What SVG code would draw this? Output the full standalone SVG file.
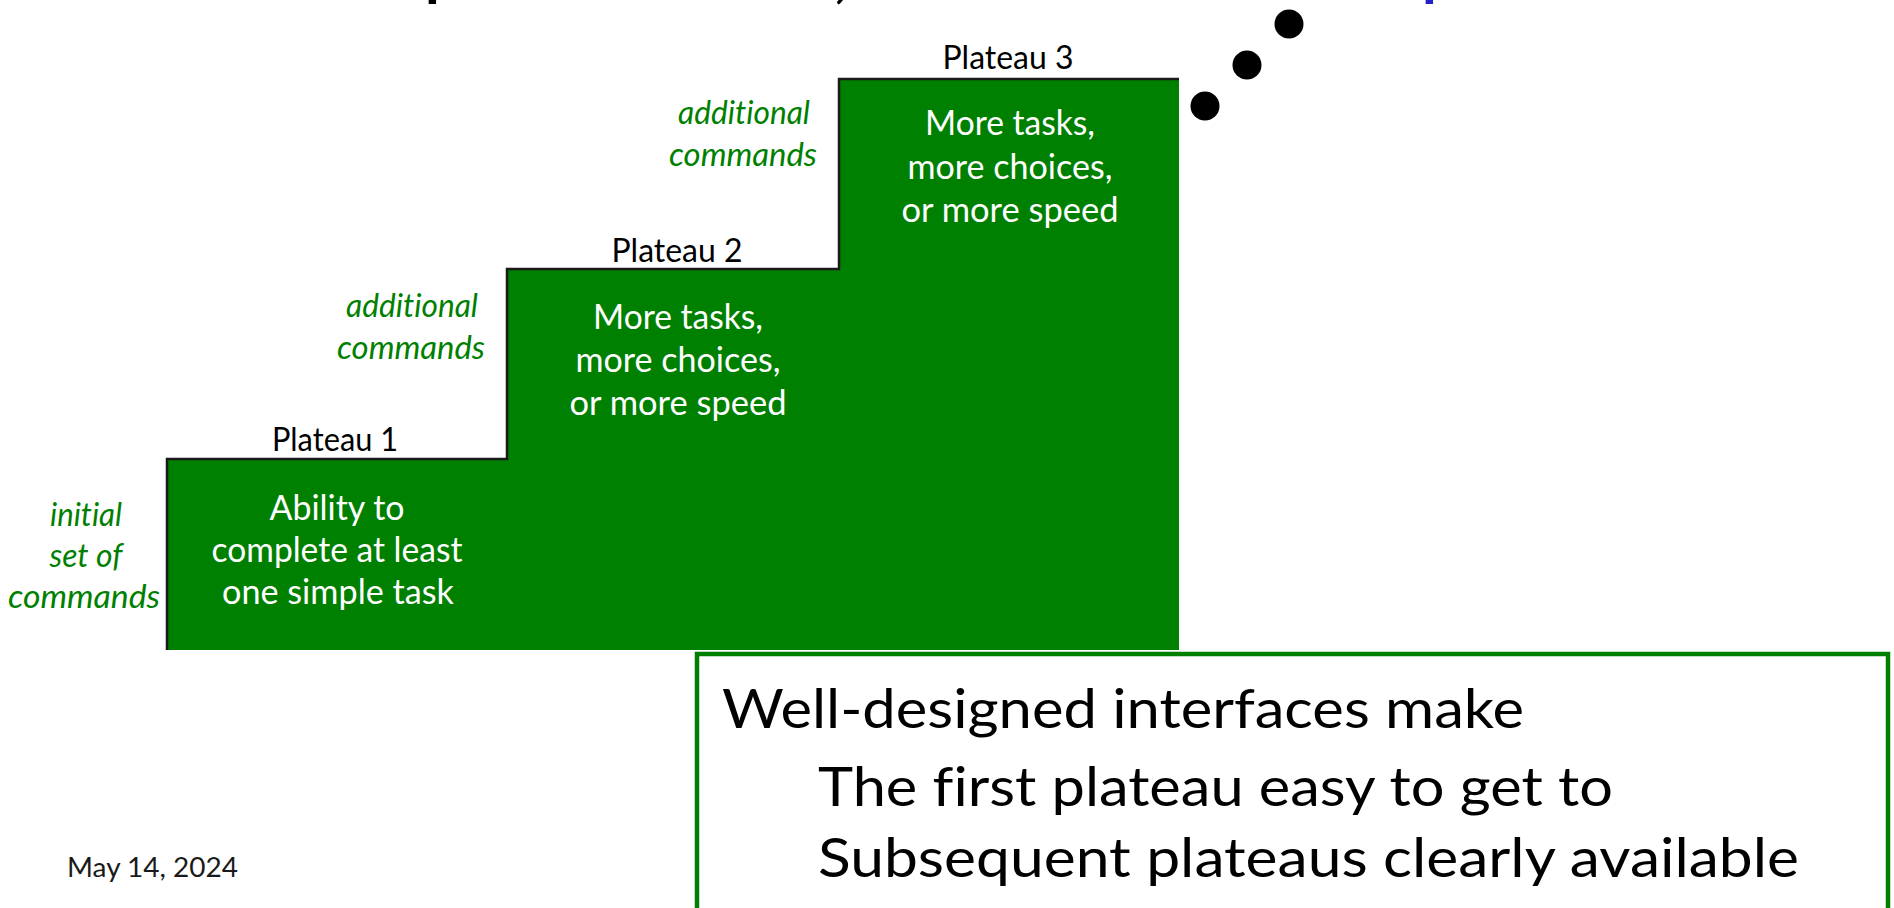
<svg xmlns="http://www.w3.org/2000/svg" width="1894" height="908" viewBox="0 0 1894 908">
  <style>
    text { font-variant-ligatures: none; }
    .step { fill: #008000; }
    .edge { fill: none; stroke: #1a1a1a; stroke-width: 2.5; }
    .plabel { font-family: Lato, "Open Sans", sans-serif; font-size: 32px; fill: #000; text-anchor: middle; }
    .body { font-family: Lato, "Open Sans", sans-serif; font-size: 34px; fill: #fff; text-anchor: middle; }
    .cmd { font-family: Lato, "Open Sans", sans-serif; font-size: 32px; font-style: italic; fill: #008000; text-anchor: middle; }
    .note { font-family: Lato, "Open Sans", sans-serif; font-size: 55px; fill: #000; }
    .date { font-family: Lato, "Open Sans", sans-serif; font-size: 27px; fill: #1a1a1a; }
    .title { font-family: Lato, "Open Sans", sans-serif; font-size: 60px; font-weight: 700; }
    .dot { fill: #000; }
  </style>

  <rect width="1894" height="908" fill="#fff"/>

  <!-- descenders of the heading line that sits above the visible area -->
  <g id="heading">
    <text class="title" x="425" y="-6" fill="#000">p</text>
    <text class="title" x="834" y="-4" fill="#000">,</text>
    <text class="title" x="1422" y="-6" fill="#2222c8">p</text>
  </g>

  <!-- staircase blocks -->
  <g id="plateau1">
    <rect class="step" x="167" y="459" width="340" height="191"/>
    <text class="plabel" x="335" y="451" textLength="126" lengthAdjust="spacingAndGlyphs">Plateau 1</text>
    <text class="body" x="337" y="520" textLength="135" lengthAdjust="spacingAndGlyphs">Ability to</text>
    <text class="body" x="337" y="562" textLength="251" lengthAdjust="spacingAndGlyphs">complete at least</text>
    <text class="body" x="338" y="604" textLength="232" lengthAdjust="spacingAndGlyphs">one simple task</text>
  </g>

  <g id="plateau2">
    <rect class="step" x="507" y="269" width="332" height="381"/>
    <text class="plabel" x="677" y="262" textLength="131" lengthAdjust="spacingAndGlyphs">Plateau 2</text>
    <text class="body" x="678" y="329" textLength="170" lengthAdjust="spacingAndGlyphs">More tasks,</text>
    <text class="body" x="678" y="372" textLength="205" lengthAdjust="spacingAndGlyphs">more choices,</text>
    <text class="body" x="678" y="415" textLength="217" lengthAdjust="spacingAndGlyphs">or more speed</text>
  </g>

  <g id="plateau3">
    <rect class="step" x="839" y="79" width="340" height="571"/>
    <text class="plabel" x="1008" y="69" textLength="131" lengthAdjust="spacingAndGlyphs">Plateau 3</text>
    <text class="body" x="1010" y="135" textLength="170" lengthAdjust="spacingAndGlyphs">More tasks,</text>
    <text class="body" x="1010" y="179" textLength="205" lengthAdjust="spacingAndGlyphs">more choices,</text>
    <text class="body" x="1010" y="222" textLength="217" lengthAdjust="spacingAndGlyphs">or more speed</text>
  </g>

  <!-- dark outline along the left side, treads and risers -->
  <g id="connectors">
    <path class="edge" d="M167,650 V459 H507 V269 H839 V79 H1179"/>
  </g>

  <!-- command annotations beside each riser -->
  <g id="cmd-initial">
    <text class="cmd" x="86" y="526" textLength="72" lengthAdjust="spacingAndGlyphs">initial</text>
    <text class="cmd" x="86" y="567" textLength="73" lengthAdjust="spacingAndGlyphs">set of</text>
    <text class="cmd" x="84" y="608" textLength="152" lengthAdjust="spacingAndGlyphs">commands</text>
  </g>
  <g id="cmd-additional-1">
    <text class="cmd" x="412" y="317" textLength="132" lengthAdjust="spacingAndGlyphs">additional</text>
    <text class="cmd" x="411" y="359" textLength="148" lengthAdjust="spacingAndGlyphs">commands</text>
  </g>
  <g id="cmd-additional-2">
    <text class="cmd" x="744" y="124" textLength="132" lengthAdjust="spacingAndGlyphs">additional</text>
    <text class="cmd" x="743" y="166" textLength="148" lengthAdjust="spacingAndGlyphs">commands</text>
  </g>

  <!-- continuation dots -->
  <g id="continuation">
    <circle class="dot" cx="1205" cy="106" r="14.5"/>
    <circle class="dot" cx="1247" cy="65" r="14.5"/>
    <circle class="dot" cx="1289" cy="24" r="14.5"/>
  </g>

  <!-- summary callout -->
  <g id="callout">
    <rect x="697" y="654" width="1191" height="270" fill="#fff" stroke="#008000" stroke-width="4.5"/>
    <text class="note" x="722" y="728" textLength="802" lengthAdjust="spacingAndGlyphs">Well-designed interfaces make</text>
    <text class="note" x="818" y="806" textLength="795" lengthAdjust="spacingAndGlyphs">The first plateau easy to get to</text>
    <text class="note" x="818" y="877" textLength="981" lengthAdjust="spacingAndGlyphs">Subsequent plateaus clearly available</text>
  </g>

  <g id="footer-date">
    <text class="date" x="67" y="877" textLength="171" lengthAdjust="spacingAndGlyphs">May 14, 2024</text>
  </g>
</svg>
